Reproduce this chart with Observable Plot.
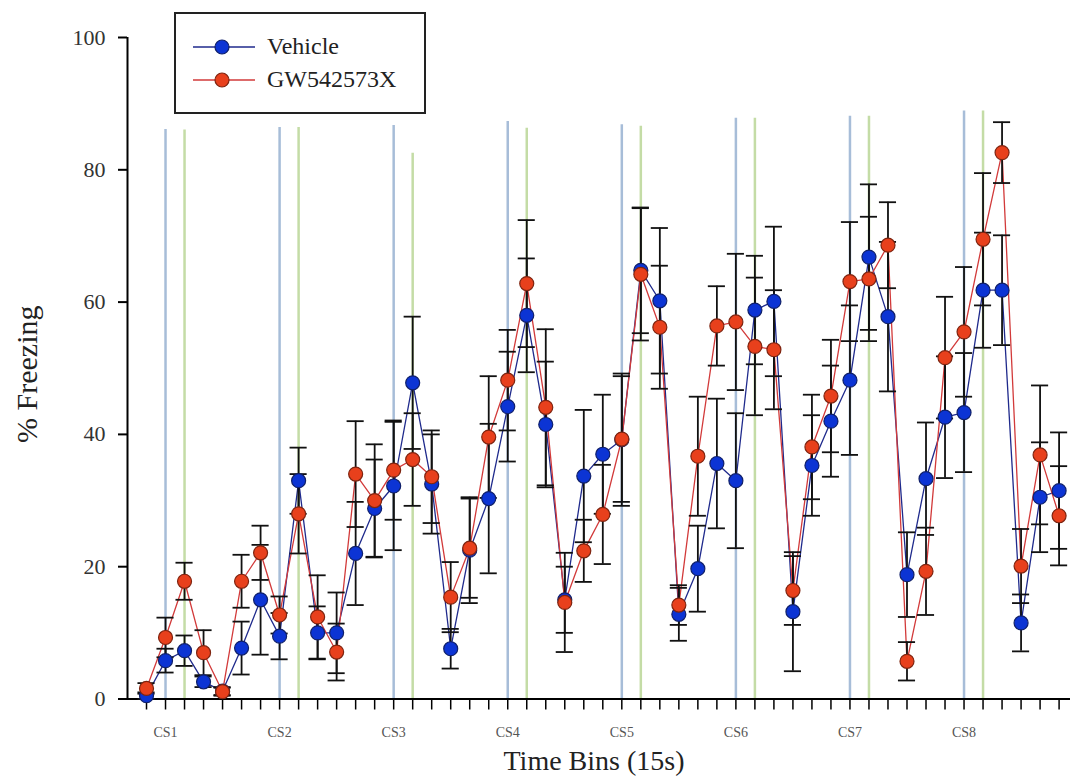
<!DOCTYPE html>
<html>
<head>
<meta charset="utf-8">
<script src="https://cdn.jsdelivr.net/npm/d3@7"></script>
<script src="https://cdn.jsdelivr.net/npm/@observablehq/plot@0.6"></script>
<style>
  html, body { margin: 0; padding: 0; background: #fff; }
  #wrap { position: relative; width: 1070px; height: 780px; font-family: "Liberation Serif", "Times New Roman", serif; }
  #legend { position: absolute; left: 174px; top: 12px; width: 248px; height: 98px; border: 2px solid #222; background: #fff; }
  #legend svg { position: absolute; left: 0; top: 0; }
  #legend .lab { position: absolute; left: 91px; font-family: "Liberation Serif", "Times New Roman", serif; font-size: 24px; color: #222; line-height: 24px; }
  g[aria-label="x-axis tick label"] text { fill: #555; }
  g[aria-label="y-axis tick label"] text { fill: #333; }
</style>
</head>
<body>
<div id="wrap">
  <div id="chart"></div>
</div>
<script>
// ---- data ----
const bins = Array.from({length: 49}, (_, i) => i);
const vehicle = [0.5, 5.8, 7.3, 2.6, 1.2, 7.7, 15.0, 9.5, 33.0, 10.0, 10.0, 22.0, 28.8, 32.2, 47.8, 32.5, 7.6, 22.5, 30.3, 44.2, 58.0, 41.5, 15.0, 33.7, 37.0, 39.2, 64.8, 60.2, 12.8, 19.7, 35.6, 33.0, 58.8, 60.1, 13.2, 35.3, 42.0, 48.2, 66.8, 57.8, 18.8, 33.3, 42.6, 43.3, 61.8, 61.8, 11.5, 30.5, 31.5];
const vehicleSem = [0.5, 1.8, 2.3, 0.8, 0.6, 4.0, 8.3, 3.5, 5.0, 4.0, 6.1, 7.8, 7.4, 9.7, 10.0, 7.5, 3.0, 8.0, 11.3, 8.3, 8.6, 9.5, 5.0, 10.0, 9.0, 10.0, 9.5, 11.0, 4.0, 6.5, 9.8, 10.2, 8.2, 11.3, 9.0, 7.6, 8.4, 11.3, 11.0, 11.3, 6.4, 8.5, 9.2, 9.0, 8.7, 8.3, 4.3, 8.3, 8.8];
const gw = [1.6, 9.3, 17.8, 7.0, 1.1, 17.8, 22.1, 12.7, 28.0, 12.4, 7.1, 34.0, 30.0, 34.6, 36.2, 33.6, 15.4, 22.8, 39.6, 48.2, 62.8, 44.1, 14.6, 22.4, 27.9, 39.3, 64.2, 56.2, 14.2, 36.7, 56.4, 57.0, 53.3, 52.8, 16.4, 38.1, 45.8, 63.1, 63.5, 68.6, 5.7, 19.3, 51.6, 55.5, 69.5, 82.6, 20.1, 36.9, 27.7];
const gwSem = [0.8, 3.0, 2.8, 3.4, 0.6, 4.0, 4.1, 2.8, 6.0, 6.3, 4.3, 8.0, 8.5, 7.5, 7.0, 7.0, 5.3, 7.5, 9.2, 7.6, 9.6, 11.8, 7.5, 4.7, 7.5, 9.5, 10.0, 9.3, 3.0, 9.0, 6.0, 10.3, 10.4, 9.0, 5.2, 7.9, 8.5, 9.0, 9.4, 6.5, 2.9, 6.6, 9.2, 9.8, 10.0, 4.6, 5.6, 10.5, 7.5];
const csLabels = ["CS1", "CS2", "CS3", "CS4", "CS5", "CS6", "CS7", "CS8"];
const csOnsetBins = [1, 7, 13, 19, 25, 31, 37, 43];
const csOnsetTops = [86.1, 86.4, 86.7, 87.3, 86.8, 87.8, 88.1, 88.9];
const csOffsetBins = [2, 8, 14, 20, 26, 32, 38, 44];
const csOffsetTops = [86.0, 86.4, 82.5, 86.3, 86.6, 87.8, 88.1, 88.9];
const yTicks = [0, 20, 40, 60, 80, 100];
const seriesNames = ["Vehicle", "GW542573X"];

// ---- tables ----
const table = [
  ...bins.map(i => ({bin: i, series: seriesNames[0], v: vehicle[i], e: vehicleSem[i]})),
  ...bins.map(i => ({bin: i, series: seriesNames[1], v: gw[i], e: gwSem[i]}))
];
const veh = table.filter(d => d.series === seriesNames[0]);
const gwt = table.filter(d => d.series === seriesNames[1]);
const onset = csOnsetBins.map((b, i) => ({bin: b, top: csOnsetTops[i]}));
const offset = csOffsetBins.map((b, i) => ({bin: b, top: csOffsetTops[i]}));
const csMap = new Map(csOnsetBins.map((b, i) => [b, csLabels[i]]));
const xDomain = [-1, 48.6];

const colors = {
  vehLine: "#1f2a8c", vehFill: "#0c34d4", vehStroke: "#10206a",
  gwLine: "#d23a3a", gwFill: "#e8401c", gwStroke: "#7e2410",
  onset: "#a7bdd8", offset: "#c4dca6"
};
const capHalf = 0.45;

function errorMarks(data) {
  return [
    Plot.ruleX(data, {x: "bin", y1: d => Math.max(0, d.v - d.e), y2: d => d.v + d.e, stroke: "#111", strokeWidth: 1.8}),
    Plot.ruleY(data, {y: d => d.v + d.e, x1: d => d.bin - capHalf, x2: d => d.bin + capHalf, stroke: "#111", strokeWidth: 1.8}),
    Plot.ruleY(data, {y: d => Math.max(0, d.v - d.e), x1: d => d.bin - capHalf, x2: d => d.bin + capHalf, stroke: "#111", strokeWidth: 1.8})
  ];
}

const chart = Plot.plot({
  width: 1070,
  height: 780,
  marginLeft: 127,
  marginRight: 0,
  marginTop: 37,
  marginBottom: 81.5,
  x: {domain: xDomain, axis: null},
  y: {domain: [0, 100], axis: null},
  style: {fontFamily: "'Liberation Serif', 'Times New Roman', serif", background: "#fff", color: "#000"},
  marks: [
    Plot.ruleX(onset, {x: "bin", y1: 0, y2: "top", stroke: colors.onset, strokeWidth: 2.5}),
    Plot.ruleX(offset, {x: "bin", y1: 0, y2: "top", stroke: colors.offset, strokeWidth: 2.5}),
    Plot.ruleY([0], {stroke: "#000", strokeWidth: 2}),
    Plot.ruleX([xDomain[0]], {y1: 0, y2: 100, stroke: "#000", strokeWidth: 2}),
    Plot.axisY({ticks: yTicks, tickSize: 9, tickPadding: 13, fontSize: 22, label: null, strokeWidth: 2}),
    Plot.axisX({ticks: bins, tickSize: 11, tickPadding: 17, fontSize: 14, label: null, strokeWidth: 1.5,
      tickFormat: d => csMap.get(d) ?? ""}),
    Plot.line(veh, {x: "bin", y: "v", stroke: colors.vehLine, strokeWidth: 1.3}),
    Plot.line(gwt, {x: "bin", y: "v", stroke: colors.gwLine, strokeWidth: 1.3}),
    ...errorMarks(veh),
    ...errorMarks(gwt),
    Plot.dot(veh, {x: "bin", y: "v", r: 7, fill: colors.vehFill, stroke: colors.vehStroke, strokeWidth: 1.2}),
    Plot.dot(gwt, {x: "bin", y: "v", r: 7, fill: colors.gwFill, stroke: colors.gwStroke, strokeWidth: 1.2}),
    Plot.text(["% Freezing"], {frameAnchor: "left", textAnchor: "middle", lineAnchor: "middle", dx: -100, dy: 6, rotate: -90, fontSize: 30, fill: "#222"}),
    Plot.text(["Time Bins (15s)"], {frameAnchor: "bottom", textAnchor: "middle", dx: -5, dy: 71, fontSize: 28, fill: "#222"})
  ]
});
document.getElementById("chart").appendChild(chart);

// ---- legend (HTML overlay) ----
const legend = document.createElement("div");
legend.id = "legend";
const ns = "http://www.w3.org/2000/svg";
const lsvg = document.createElementNS(ns, "svg");
lsvg.setAttribute("width", 248);
lsvg.setAttribute("height", 98);
const legendItems = [
  {name: seriesNames[0], line: colors.vehLine, fill: colors.vehFill, stroke: colors.vehStroke},
  {name: seriesNames[1], line: colors.gwLine, fill: colors.gwFill, stroke: colors.gwStroke}
];
legendItems.forEach((it, k) => {
  const cy = 33 + k * 33;
  const ln = document.createElementNS(ns, "line");
  ln.setAttribute("x1", 17); ln.setAttribute("x2", 79);
  ln.setAttribute("y1", cy); ln.setAttribute("y2", cy);
  ln.setAttribute("stroke", it.line); ln.setAttribute("stroke-width", 1.5);
  lsvg.appendChild(ln);
  const c = document.createElementNS(ns, "circle");
  c.setAttribute("cx", 46); c.setAttribute("cy", cy); c.setAttribute("r", 7);
  c.setAttribute("fill", it.fill); c.setAttribute("stroke", it.stroke); c.setAttribute("stroke-width", 1.2);
  lsvg.appendChild(c);
  const t = document.createElement("div");
  t.className = "lab";
  t.style.top = (cy - 13) + "px";
  t.textContent = it.name;
  legend.appendChild(t);
});
legend.insertBefore(lsvg, legend.firstChild);
document.getElementById("wrap").appendChild(legend);
</script>
</body>
</html>
